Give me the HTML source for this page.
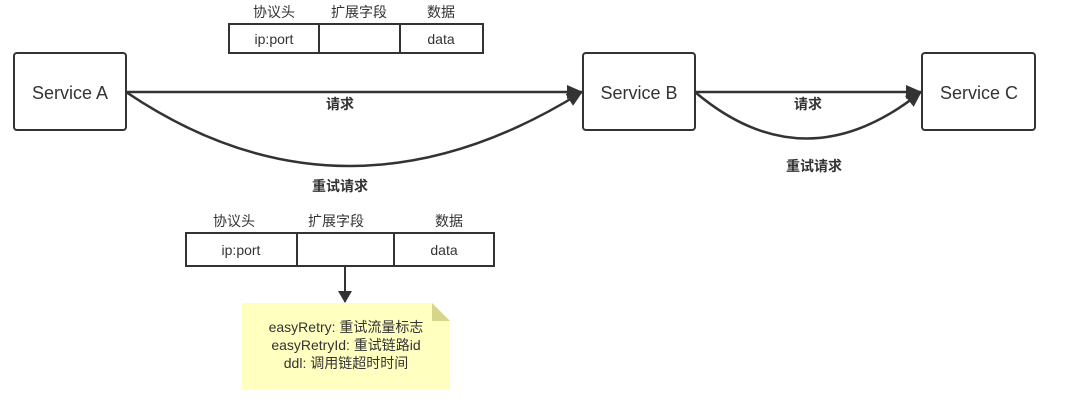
<!DOCTYPE html>
<html><head><meta charset="utf-8"><style>
html,body{margin:0;padding:0;background:#fff;}
svg{display:block;}
text{font-family:"Liberation Sans","Noto Sans CJK SC",sans-serif;fill:#333;}
</style></head><body>
<svg width="1080" height="409" viewBox="0 0 1080 409" xmlns="http://www.w3.org/2000/svg">
<defs><marker id="ah" markerWidth="12" markerHeight="14" refX="11" refY="7" orient="auto" markerUnits="userSpaceOnUse" viewBox="0 0 12 14"><path d="M0,0 L12,7 L0,14 z" fill="#333"/></marker>
<marker id="ah2" markerWidth="16" markerHeight="14" refX="15" refY="7" orient="auto" markerUnits="userSpaceOnUse" viewBox="0 0 16 14"><path d="M0,0 L16,7 L0,14 z" fill="#333"/></marker></defs>
<g fill="#fff" stroke="#333" stroke-width="2">
<rect x="14" y="53" width="112" height="77" rx="3"/>
<rect x="583" y="53" width="112" height="77" rx="3"/>
<rect x="922" y="53" width="113" height="77" rx="3"/>
</g>
<g font-size="18" text-anchor="middle">
<text x="70" y="99">Service A</text>
<text x="639" y="99">Service B</text>
<text x="979" y="99">Service C</text>
</g>
<g stroke="#333" stroke-width="2.5" fill="none">
<line x1="126" y1="92" x2="582" y2="92" marker-end="url(#ah2)"/>
<path d="M126,92 Q345,240 582,92" marker-end="url(#ah2)"/>
<line x1="695" y1="92" x2="921" y2="92" marker-end="url(#ah2)"/>
<path d="M695,92 Q805,185 921,92" marker-end="url(#ah2)"/>
</g>
<g font-size="14" font-weight="bold" text-anchor="middle">
<text x="340" y="109">请求</text>
<text x="340" y="191">重试请求</text>
<text x="808" y="109">请求</text>
<text x="814" y="171">重试请求</text>
</g>
<g fill="#fff" stroke="#333" stroke-width="2">
<rect x="229" y="24" width="254" height="29"/>
<line x1="319" y1="24" x2="319" y2="53"/>
<line x1="400" y1="24" x2="400" y2="53"/>
<rect x="186" y="233" width="308" height="33"/>
<line x1="297" y1="233" x2="297" y2="266"/>
<line x1="394" y1="233" x2="394" y2="266"/>
</g>
<g font-size="14" text-anchor="middle">
<text x="274" y="17">协议头</text>
<text x="359" y="17">扩展字段</text>
<text x="441" y="17">数据</text>
<text x="274" y="44">ip:port</text>
<text x="441" y="44">data</text>
<text x="234" y="226">协议头</text>
<text x="336" y="226">扩展字段</text>
<text x="449" y="226">数据</text>
<text x="241" y="255">ip:port</text>
<text x="444" y="255">data</text>
</g>
<line x1="345" y1="266" x2="345" y2="302" stroke="#333" stroke-width="2" marker-end="url(#ah)"/>
<path d="M242,303 L432,303 L450,321 L450,390 L242,390 z" fill="#ffffc0"/>
<path d="M432,303 L450,321 L432,321 z" fill="#d6d68a"/>
<g font-size="14" text-anchor="middle">
<text x="346" y="332">easyRetry: 重试流量标志</text>
<text x="346" y="350">easyRetryId: 重试链路id</text>
<text x="346" y="368">ddl: 调用链超时时间</text>
</g>
</svg>
</body></html>
